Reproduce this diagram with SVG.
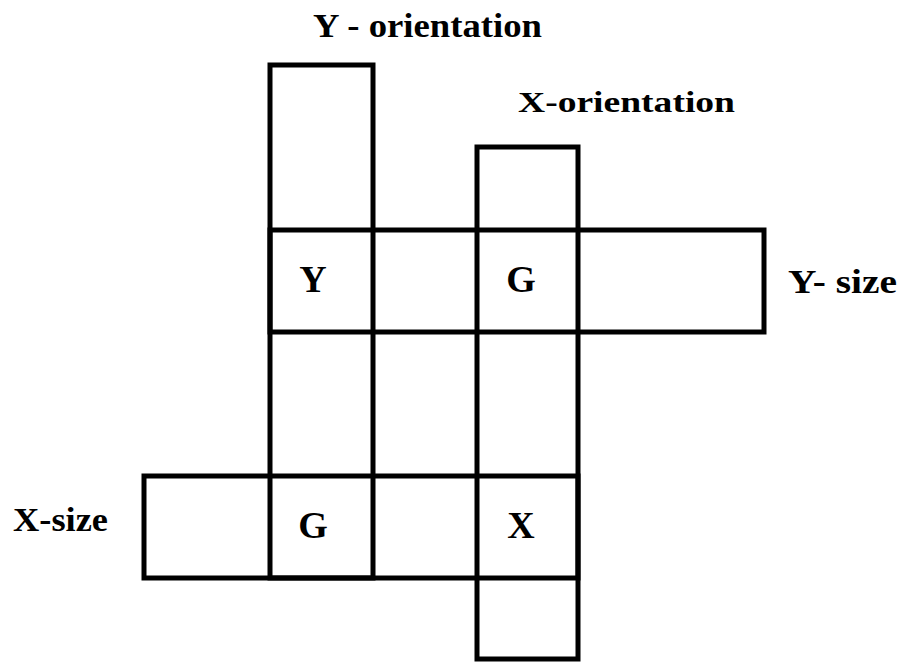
<svg xmlns="http://www.w3.org/2000/svg" width="904" height="662" viewBox="0 0 904 662">
<style>
.box{fill:none;stroke:#000;stroke-width:5;stroke-linejoin:miter}
.lbl{font-family:"Liberation Serif","DejaVu Serif",serif;font-weight:bold;fill:#000}
.cell{font-family:"Liberation Serif","DejaVu Serif",serif;font-weight:bold;fill:#000;font-size:38px;text-anchor:middle}
</style>
<rect width="904" height="662" fill="#fff"/>
<g id="strips">
<rect id="col-y" class="box" x="270" y="65" width="103" height="513"/>
<rect id="col-x" class="box" x="477" y="147" width="101" height="512"/>
<rect id="row-ysize" class="box" x="270" y="230" width="494" height="102"/>
<rect id="row-xsize" class="box" x="144" y="476" width="434" height="102"/>
</g>
<g id="cell-y"><text class="cell" x="313" y="292">Y</text></g>
<g id="cell-g1"><text class="cell" x="521" y="292">G</text></g>
<g id="cell-g2"><text class="cell" x="313" y="538">G</text></g>
<g id="cell-x"><text class="cell" x="521" y="538">X</text></g>
<g id="label-yorient"><text class="lbl" x="313" y="37" font-size="34" textLength="229" lengthAdjust="spacingAndGlyphs">Y - orientation</text></g>
<g id="label-xorient"><text class="lbl" x="518" y="112" font-size="30" textLength="217" lengthAdjust="spacingAndGlyphs">X-orientation</text></g>
<g id="label-ysize"><text class="lbl" x="788" y="293" font-size="33" textLength="109" lengthAdjust="spacingAndGlyphs">Y- size</text></g>
<g id="label-xsize"><text class="lbl" x="13" y="531" font-size="33" textLength="95" lengthAdjust="spacingAndGlyphs">X-size</text></g>
</svg>
